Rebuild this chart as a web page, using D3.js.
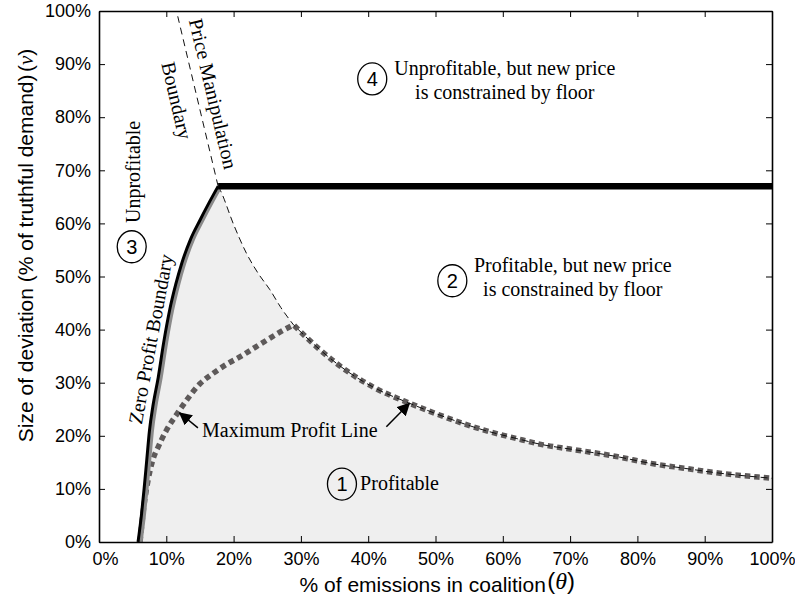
<!DOCTYPE html>
<html><head><meta charset="utf-8">
<script src="https://cdn.jsdelivr.net/npm/d3@7"></script>
<style>body{margin:0;background:#fff}</style>
</head><body><svg id="c" width="795" height="597" xmlns="http://www.w3.org/2000/svg"></svg>
<script>
// ---- data (percent units) ----
const xTickValues = [0,10,20,30,40,50,60,70,80,90,100];
const yTickValues = [0,10,20,30,40,50,60,70,80,90,100];

const zeroProfitTheta = [5.8, 6.3, 6.7, 7.1, 7.5, 8.0, 8.8, 9.6, 10.5, 11.4, 12.3, 13.6, 15.0, 16.4, 17.7];
const zeroProfitV     = [0,   5,   10,  15.5, 21, 25.5, 31,  37.5, 43.7, 48.5, 52.5, 57,  60.6, 64,  67];

const floorTheta = [17.7, 100];
const floorV     = [67, 67];

const manipTheta = [17.7, 11.7];
const manipV     = [67, 99];

const boundaryTheta = [17.7, 18.0, 20.0, 21.9, 23.7, 25.4, 27.0, 28.9];
const boundaryV     = [67,   66.3, 59.8, 54.4, 50.5, 47.5, 44.2, 40.9];

const maxProfitLeftTheta  = [6.1, 6.5, 7.3, 8.0, 8.8, 10.0, 11.8, 13.3, 15.0, 17.0, 19.0, 21.0, 23.0, 24.9, 27.0, 28.9];
const maxProfitLeftV      = [0,   5,   11.7, 15.5, 17.9, 21.0, 24.5, 27.2, 29.8, 31.8, 33.5, 34.9, 36.5, 38.0, 39.6, 40.9];
const maxProfitRightTheta = [28.9, 32.3, 37.3, 41.0, 46.2, 50.0, 57.1, 62.0, 66.0, 70.0, 76.9, 82.0, 86.9, 92.0, 98.2, 100];
const maxProfitRightV     = [40.9, 36.8, 31.8, 29.0, 26.1, 24.2, 21.1, 19.5, 18.3, 17.5, 16.1, 14.8, 13.9, 13.0, 12.2, 12.0];

// ---- setup ----
const svg = d3.select('#c');
const L = 99, R = 772, T = 11, B = 542;
const x = d3.scaleLinear().domain([0,100]).range([L,R]);
const y = d3.scaleLinear().domain([0,100]).range([B,T]);
const pts = (a,b) => a.map((t,i)=>[t,b[i]]);
const line = d3.line().x(d=>x(d[0])).y(d=>y(d[1]));
const smooth = d3.line().x(d=>x(d[0])).y(d=>y(d[1])).curve(d3.curveMonotoneX);
const SANS = "'Liberation Sans', Arial, Helvetica, sans-serif";
const SERIF = "'Liberation Serif', 'Times New Roman', serif";

const zp = pts(zeroProfitTheta, zeroProfitV);
const bd = pts(boundaryTheta, boundaryV);
const mpL = pts(maxProfitLeftTheta, maxProfitLeftV);
const mpR = pts(maxProfitRightTheta, maxProfitRightV);

// profitable region fill
const fillD = smooth(zp) + smooth(bd).replace(/^M/,'L') + smooth(mpR).replace(/^M/,'L')
  + `L${x(100)},${y(0)}L${x(zeroProfitTheta[0])},${y(0)}Z`;
svg.append('path').attr('d', fillD).attr('fill', '#efefef').attr('stroke','none');

// max profit line (thick dotted gray)
svg.append('path').attr('d', smooth(mpL) + smooth(mpR).replace(/^M/,'L'))
  .attr('fill','none').attr('stroke','#5e5a5a').attr('stroke-width',5.5).attr('stroke-dasharray','5.5,4');

// boundary thin dashed: peak -> kink -> along max profit
svg.append('path').attr('d', smooth(bd) + smooth(mpR).replace(/^M/,'L'))
  .attr('fill','none').attr('stroke','#111').attr('stroke-width',1).attr('stroke-dasharray','7,4');

// price manipulation boundary
svg.append('path').attr('d', line(pts(manipTheta, manipV)))
  .attr('fill','none').attr('stroke','#111').attr('stroke-width',1).attr('stroke-dasharray','7,5');

// zero profit boundary (gray + black)
svg.append('path').attr('d', smooth(zp))
  .attr('fill','none').attr('stroke','#8a8a8a').attr('stroke-width',4).attr('transform','translate(2.5,0)');
svg.append('path').attr('d', smooth(zp))
  .attr('fill','none').attr('stroke','#000').attr('stroke-width',3);

// floor line
svg.append('path').attr('d', line(pts(floorTheta, floorV)))
  .attr('fill','none').attr('stroke','#000').attr('stroke-width',6.5).attr('stroke-linecap','butt');

// ---- axes ----
const fmt = d => d + '%';
const gx = svg.append('g').attr('transform',`translate(0,${B})`)
  .call(d3.axisBottom(x).tickValues(xTickValues).tickFormat(fmt).tickSizeInner(-6).tickSizeOuter(0).tickPadding(10));
const gy = svg.append('g').attr('transform',`translate(${L},0)`)
  .call(d3.axisLeft(y).tickValues(yTickValues).tickFormat(fmt).tickSizeInner(-6).tickSizeOuter(0).tickPadding(8));
const gt = svg.append('g').attr('transform',`translate(0,${T})`)
  .call(d3.axisTop(x).tickValues(xTickValues).tickFormat('').tickSizeInner(-6).tickSizeOuter(0));
const gr = svg.append('g').attr('transform',`translate(${R},0)`)
  .call(d3.axisRight(y).tickValues(yTickValues).tickFormat('').tickSizeInner(-6).tickSizeOuter(0));
[gx,gy,gt,gr].forEach(g=>{
  g.selectAll('.domain').attr('stroke','#000').attr('stroke-width',1.6);
  g.selectAll('.tick line').attr('stroke','#000').attr('stroke-width',1);
  g.selectAll('text').attr('font-family',SANS).attr('font-size',18).attr('fill','#000');
});
gx.selectAll('.tick').filter(d=>d===0).select('text').attr('dx',6);

// axis titles
svg.append('text').attr('x', x(66.4)).attr('y', 592).attr('text-anchor','end')
  .attr('font-family',SANS).attr('font-size',21).text('% of emissions in coalition');
const xt = svg.append('text').attr('x', x(66.6)).attr('y', 589).attr('font-family',SANS).attr('font-size',24);
xt.append('tspan').text('(');
xt.append('tspan').attr('font-family',SERIF).attr('font-style','italic').text('θ');
xt.append('tspan').text(')');

svg.append('text').attr('transform',`translate(33,${y(18.8)}) rotate(-90)`).attr('text-anchor','start')
  .attr('font-family',SANS).attr('font-size',21).text('Size of deviation (% of truthful demand)');
const yt = svg.append('text').attr('transform',`translate(33,${y(88.5)}) rotate(-90)`).attr('text-anchor','start')
  .attr('font-family',SANS).attr('font-size',21);
yt.append('tspan').text('(');
yt.append('tspan').attr('font-family',SERIF).attr('font-style','italic').text('ν');
yt.append('tspan').text(')');

// ---- annotations ----
function circ(t, v, label){
  svg.append('ellipse').attr('cx',x(t)).attr('cy',y(v)).attr('rx',14.5).attr('ry',16)
    .attr('fill','none').attr('stroke','#000').attr('stroke-width',1.3);
  svg.append('text').attr('x',x(t)).attr('y',y(v)).attr('dy','0.36em').attr('text-anchor','middle')
    .attr('font-family',SANS).attr('font-size',20).text(label);
}
function txt(t, v, s, opts={}){
  const el = svg.append('text').attr('font-family',SERIF).attr('font-size',20).attr('fill','#000').text(s);
  if (opts.rot !== undefined){
    el.attr('transform',`translate(${x(t)},${y(v)}) rotate(${opts.rot})`).attr('text-anchor','middle').attr('dy','0.32em');
  } else {
    el.attr('x',x(t)).attr('y',y(v)).attr('text-anchor',opts.anchor||'start');
  }
  return el;
}
circ(4.86, 55.6, '3');
circ(36.1, 10.9, '1');
circ(52.5, 49.2, '2');
circ(40.6, 87.2, '4');

txt(60.3, 87.9, 'Unprofitable, but new price', {anchor:'middle'});
txt(60.3, 83.4, 'is constrained by floor', {anchor:'middle'});
txt(70.4, 50.8, 'Profitable, but new price', {anchor:'middle'});
txt(70.4, 46.3, 'is constrained by floor', {anchor:'middle'});
txt(38.8, 9.8, 'Profitable');
txt(15.3, 19.8, 'Maximum Profit Line');
txt(5.2, 69.7, 'Unprofitable', {rot:-90});
txt(7.75, 38.2, 'Zero Profit Boundary', {rot:-79.5});
txt(16.9, 84.4, 'Price Manipulation', {rot:76.6});
txt(11.5, 83.1, 'Boundary', {rot:77});

// arrows
const defs = svg.append('defs');
defs.append('marker').attr('id','ah').attr('viewBox','0 0 10 10').attr('refX',9).attr('refY',5)
  .attr('markerWidth',13).attr('markerHeight',13).attr('markerUnits','userSpaceOnUse').attr('orient','auto')
  .append('path').attr('d','M0,0 L10,5 L0,10 Z').attr('fill','#000');
function arrow(t0,v0,t1,v1){
  svg.append('line').attr('x1',x(t0)).attr('y1',y(v0)).attr('x2',x(t1)).attr('y2',y(v1))
    .attr('stroke','#000').attr('stroke-width',1.5).attr('marker-end','url(#ah)');
}
arrow(14.7, 21.5, 12.0, 24.3);
arrow(42.7, 21.7, 46.1, 26.1);
</script>
</body></html>
